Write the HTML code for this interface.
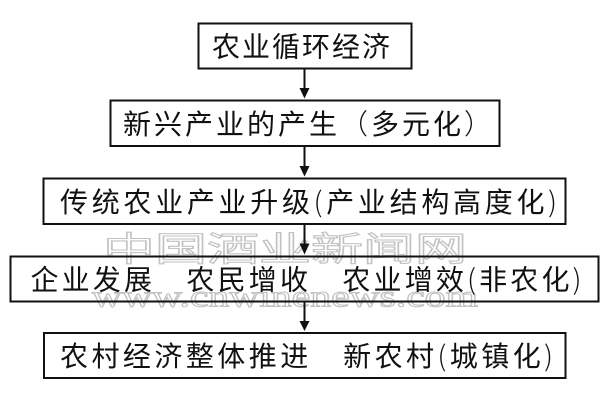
<!DOCTYPE html>
<html>
<head>
<meta charset="utf-8">
<style>
  html, body { margin:0; padding:0; background:#fff; }
  body { width:600px; height:401px; overflow:hidden; }
  svg { display:block; }
  .t { font-family: "Liberation Sans", "Noto Sans CJK SC", "WenQuanYi Zen Hei", sans-serif; font-size:28px; fill:#111; }
  .p { font-family: "Noto Sans CJK SC", "WenQuanYi Zen Hei", sans-serif; font-weight:300; }
</style>
</head>
<body>
<svg width="600" height="401" viewBox="0 0 600 401" xmlns="http://www.w3.org/2000/svg">
  <rect x="0" y="0" width="600" height="401" fill="#fff"/>

  <!-- watermark -->
  <g fill="#fff" stroke="#c2c2c2" stroke-width="1.1">
    <text x="103" y="261" font-family="Noto Sans CJK SC, WenQuanYi Zen Hei, sans-serif" font-size="34" textLength="364" lengthAdjust="spacingAndGlyphs">中国酒业新闻网</text>
    <text x="92" y="306.5" font-family="Liberation Serif, serif" font-size="31" textLength="386" lengthAdjust="spacingAndGlyphs">www.cnwinenews.com</text>
  </g>

  <!-- boxes -->
  <g fill="none" stroke="#111" stroke-width="2">
    <rect x="198.5" y="23.5" width="213" height="45"/>
    <rect x="110.5" y="100.5" width="389" height="45.5"/>
    <rect x="43.5" y="178.5" width="522" height="45.5"/>
    <rect x="10.5" y="256.5" width="588" height="45"/>
    <rect x="44" y="333" width="521.5" height="45"/>
  </g>

  <!-- connectors -->
  <g stroke="#111" stroke-width="2">
    <line x1="304.5" y1="69" x2="304.5" y2="90"/>
    <line x1="304.5" y1="146" x2="304.5" y2="168"/>
    <line x1="304.5" y1="224" x2="304.5" y2="245"/>
    <line x1="304.5" y1="302" x2="304.5" y2="323"/>
  </g>
  <g fill="#111">
    <polygon points="299.5,88 309.5,88 304.5,98.5"/>
    <polygon points="299.5,166 309.5,166 304.5,176.5"/>
    <polygon points="299.5,243.5 309.5,243.5 304.5,254.5"/>
    <polygon points="299.5,321 309.5,321 304.5,331"/>
  </g>

  <!-- labels -->
  <text class="t" x="212" y="56.5" textLength="178" lengthAdjust="spacing">农业循环经济</text>
  <text class="t" x="123" y="134" textLength="369" lengthAdjust="spacing">新兴产业的产生<tspan class="p">（</tspan>多元化<tspan class="p">）</tspan></text>
  <text class="t" x="60" y="212" textLength="497" lengthAdjust="spacing">传统农业产业升级<tspan class="p">(</tspan>产业结构高度化<tspan class="p">)</tspan></text>
  <text class="t" x="30.5" y="289.5" textLength="551" lengthAdjust="spacing">企业发展　农民增收　农业增效<tspan class="p">(</tspan>非农化<tspan class="p">)</tspan></text>
  <text class="t" x="60" y="366" textLength="493" lengthAdjust="spacing">农村经济整体推进　新农村<tspan class="p">(</tspan>城镇化<tspan class="p">)</tspan></text>
</svg>
</body>
</html>
